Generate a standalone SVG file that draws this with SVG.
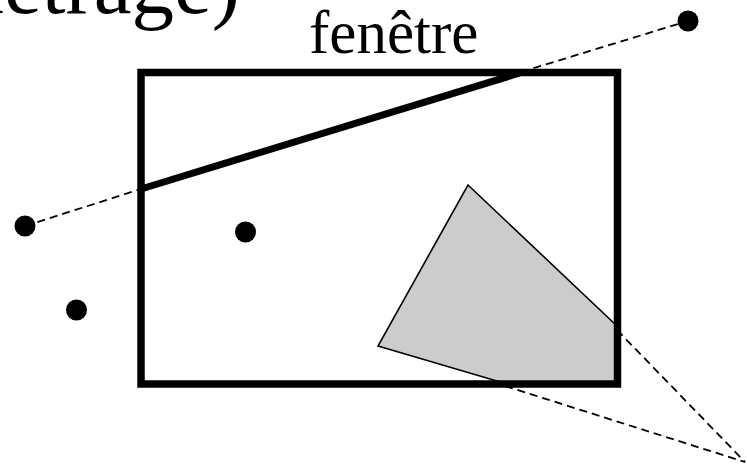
<svg xmlns="http://www.w3.org/2000/svg" width="747" height="465" viewBox="0 0 747 465">
<style>
.t{font-family:"Liberation Serif","Times New Roman",serif;fill:#000}
.dash{stroke:#000;stroke-width:1.8;stroke-dasharray:8 5;fill:none}
.dot{fill:#000}
</style>
<rect x="0" y="0" width="747" height="465" fill="#fff"/>
<text class="t" x="240" y="13" font-size="85" text-anchor="end">(fenêtrage)</text>
<text class="t" x="309" y="53" font-size="61">fenêtre</text>
<g id="connectors">
<line class="dash" x1="25" y1="226" x2="141" y2="189"/>
<line class="dash" x1="521" y1="72" x2="688" y2="21"/>
<line class="dash" x1="617" y1="330" x2="745" y2="462"/>
<line class="dash" x1="505" y1="386" x2="745" y2="462"/>
</g>
<g id="polygon">
<polygon points="468,185 617,326 617,384 507,384 378,346" fill="#cccccc" stroke="#000" stroke-width="1.6" stroke-linejoin="miter"/>
</g>
<g id="window">
<rect x="141" y="72.5" width="476.5" height="311.5" fill="none" stroke="#000" stroke-width="7.5"/>
</g>
<g id="segment">
<line x1="141" y1="189" x2="523" y2="72" stroke="#000" stroke-width="7"/>
</g>
<g id="points">
<circle class="dot" cx="688" cy="21" r="10.5"/>
<circle class="dot" cx="25" cy="226" r="10.5"/>
<circle class="dot" cx="245.5" cy="232" r="10.5"/>
<circle class="dot" cx="76.5" cy="310" r="10.5"/>
</g>
</svg>
